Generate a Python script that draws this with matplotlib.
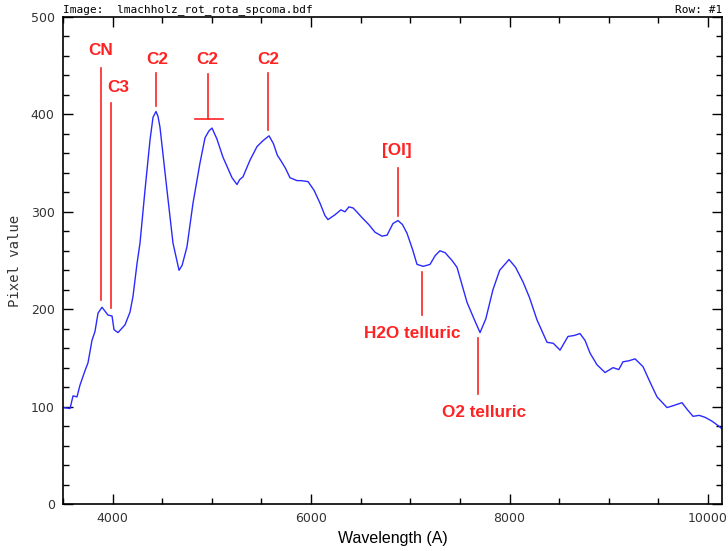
import matplotlib
matplotlib.use("Agg")
from matplotlib import pyplot as plt
from matplotlib.ticker import MultipleLocator

# spectrum (wavelength in A, pixel value)
wavelength = [3500, 3571, 3601, 3641, 3671, 3722, 3752, 3792, 3822, 3853, 3893,
              3953, 3994, 4014, 4054, 4090, 4125, 4175, 4205, 4246,
              4276, 4326, 4377, 4407, 4437, 4457, 4477, 4548, 4608, 4669, 4700,
              4749, 4810, 4880, 4931, 4970, 5001, 5050, 5112, 5203, 5253, 5280,
              5314, 5384, 5455, 5515, 5576, 5620, 5660, 5686, 5740, 5787, 5858,
              5900, 5969, 6030, 6089, 6140, 6170, 6241, 6300, 6341, 6380, 6422,
              6460, 6513, 6580, 6644, 6714, 6765, 6825, 6875, 6920, 6966, 7020,
              7067, 7130, 7198, 7250, 7298, 7350, 7420, 7470, 7571, 7650, 7702,
              7760, 7832, 7900, 7994, 8060, 8135, 8200, 8276, 8377, 8440, 8508,
              8588, 8650, 8709, 8760, 8810, 8880, 8961, 9042, 9100, 9142, 9200,
              9264, 9344, 9420, 9485, 9586, 9650, 9737, 9790, 9848, 9910, 9969,
              10040, 10120, 10140]
pixel_value = [99, 98, 111, 110, 122, 137, 145, 168, 177, 196, 202,
               194, 193, 179, 176, 180, 184, 197, 213, 247,
               268, 322, 374, 397, 403, 398, 387, 322, 268, 240, 245,
               264, 309, 350, 376, 383, 386, 375, 356, 335, 328, 333,
               336, 353, 367, 373, 378, 370, 358, 354, 345, 335, 332,
               332, 331, 322, 309, 296, 292, 297, 302, 300, 305, 304,
               300, 294, 287, 279, 275, 276, 288, 291, 287, 278, 262,
               246, 244, 246, 255, 260, 258, 250, 243, 207, 188, 176,
               190, 220, 240, 251, 243, 228, 212, 189, 166, 165, 158,
               172, 173, 175, 168, 155, 143, 135, 140, 138, 146, 147,
               149, 141, 124, 110, 99, 101, 104, 97, 90, 91, 89,
               85, 79, 77]

# annotations: label, text x, text y, line x, line bottom, line top
line_labels = ["CN", "C3", "C2", "C2", "C2", "[OI]", "H2O telluric", "O2 telluric"]
label_x = [3883, 4054, 4447, 4951, 5565, 6865, 7016, 7742]
label_y = [466, 428, 456, 456, 456, 363, 175, 94]
marker_x = [3883, 3984, 4437, 4961, 5565, 6875, 7117, 7681]
marker_lo = [209, 201, 409, 395, 384, 296, 194, 113]
marker_hi = [448, 412, 443, 441, 443, 345, 238, 170]
bar_span = (4830, 5112)   # horizontal bar of the blended C2 marker

red = "#ff2222"

fig = plt.figure(figsize=(7.28, 5.51), dpi=100)
ax = fig.add_axes([63 / 728, 47 / 551, 659 / 728, 487 / 551])

ax.plot(wavelength, pixel_value, color="#2a2aff", lw=1.0)

for lab, tx, ty, mx, lo, hi in zip(line_labels, label_x, label_y,
                                   marker_x, marker_lo, marker_hi):
    ax.plot([mx, mx], [lo, hi], color=red, lw=1.2)
    ax.text(tx, ty, lab, color=red, fontsize=12.3, fontweight="bold",
            family="Liberation Sans", ha="center", va="center")
ax.plot(bar_span, [marker_lo[3], marker_lo[3]], color=red, lw=1.2)

ax.set_xlim(3500, 10140)
ax.set_ylim(0, 500)
ax.xaxis.set_major_locator(MultipleLocator(2000))
ax.xaxis.set_minor_locator(MultipleLocator(500))
ax.yaxis.set_major_locator(MultipleLocator(100))
ax.yaxis.set_minor_locator(MultipleLocator(20))
ax.tick_params(which="both", direction="in", top=True, right=True,
               labelsize=9, labelcolor="#333333", width=1)
ax.tick_params(which="major", length=7, pad=6)
ax.tick_params(which="minor", length=4)
for sp in ax.spines.values():
    sp.set_linewidth(1.2)

ax.set_xlabel("Wavelength (A)", family="Liberation Sans", fontsize=11.5,
              labelpad=4)
ax.set_ylabel("Pixel value", family="DejaVu Sans Mono", fontsize=10,
              color="#333333", labelpad=6)
ax.text(0.0, 1.005, "Image:  lmachholz_rot_rota_spcoma.bdf",
        transform=ax.transAxes, family="DejaVu Sans Mono", fontsize=8,
        va="bottom", ha="left")
ax.text(1.0, 1.005, "Row: #1", transform=ax.transAxes,
        family="DejaVu Sans Mono", fontsize=8, va="bottom", ha="right")

fig.savefig("out.png", dpi=100)
